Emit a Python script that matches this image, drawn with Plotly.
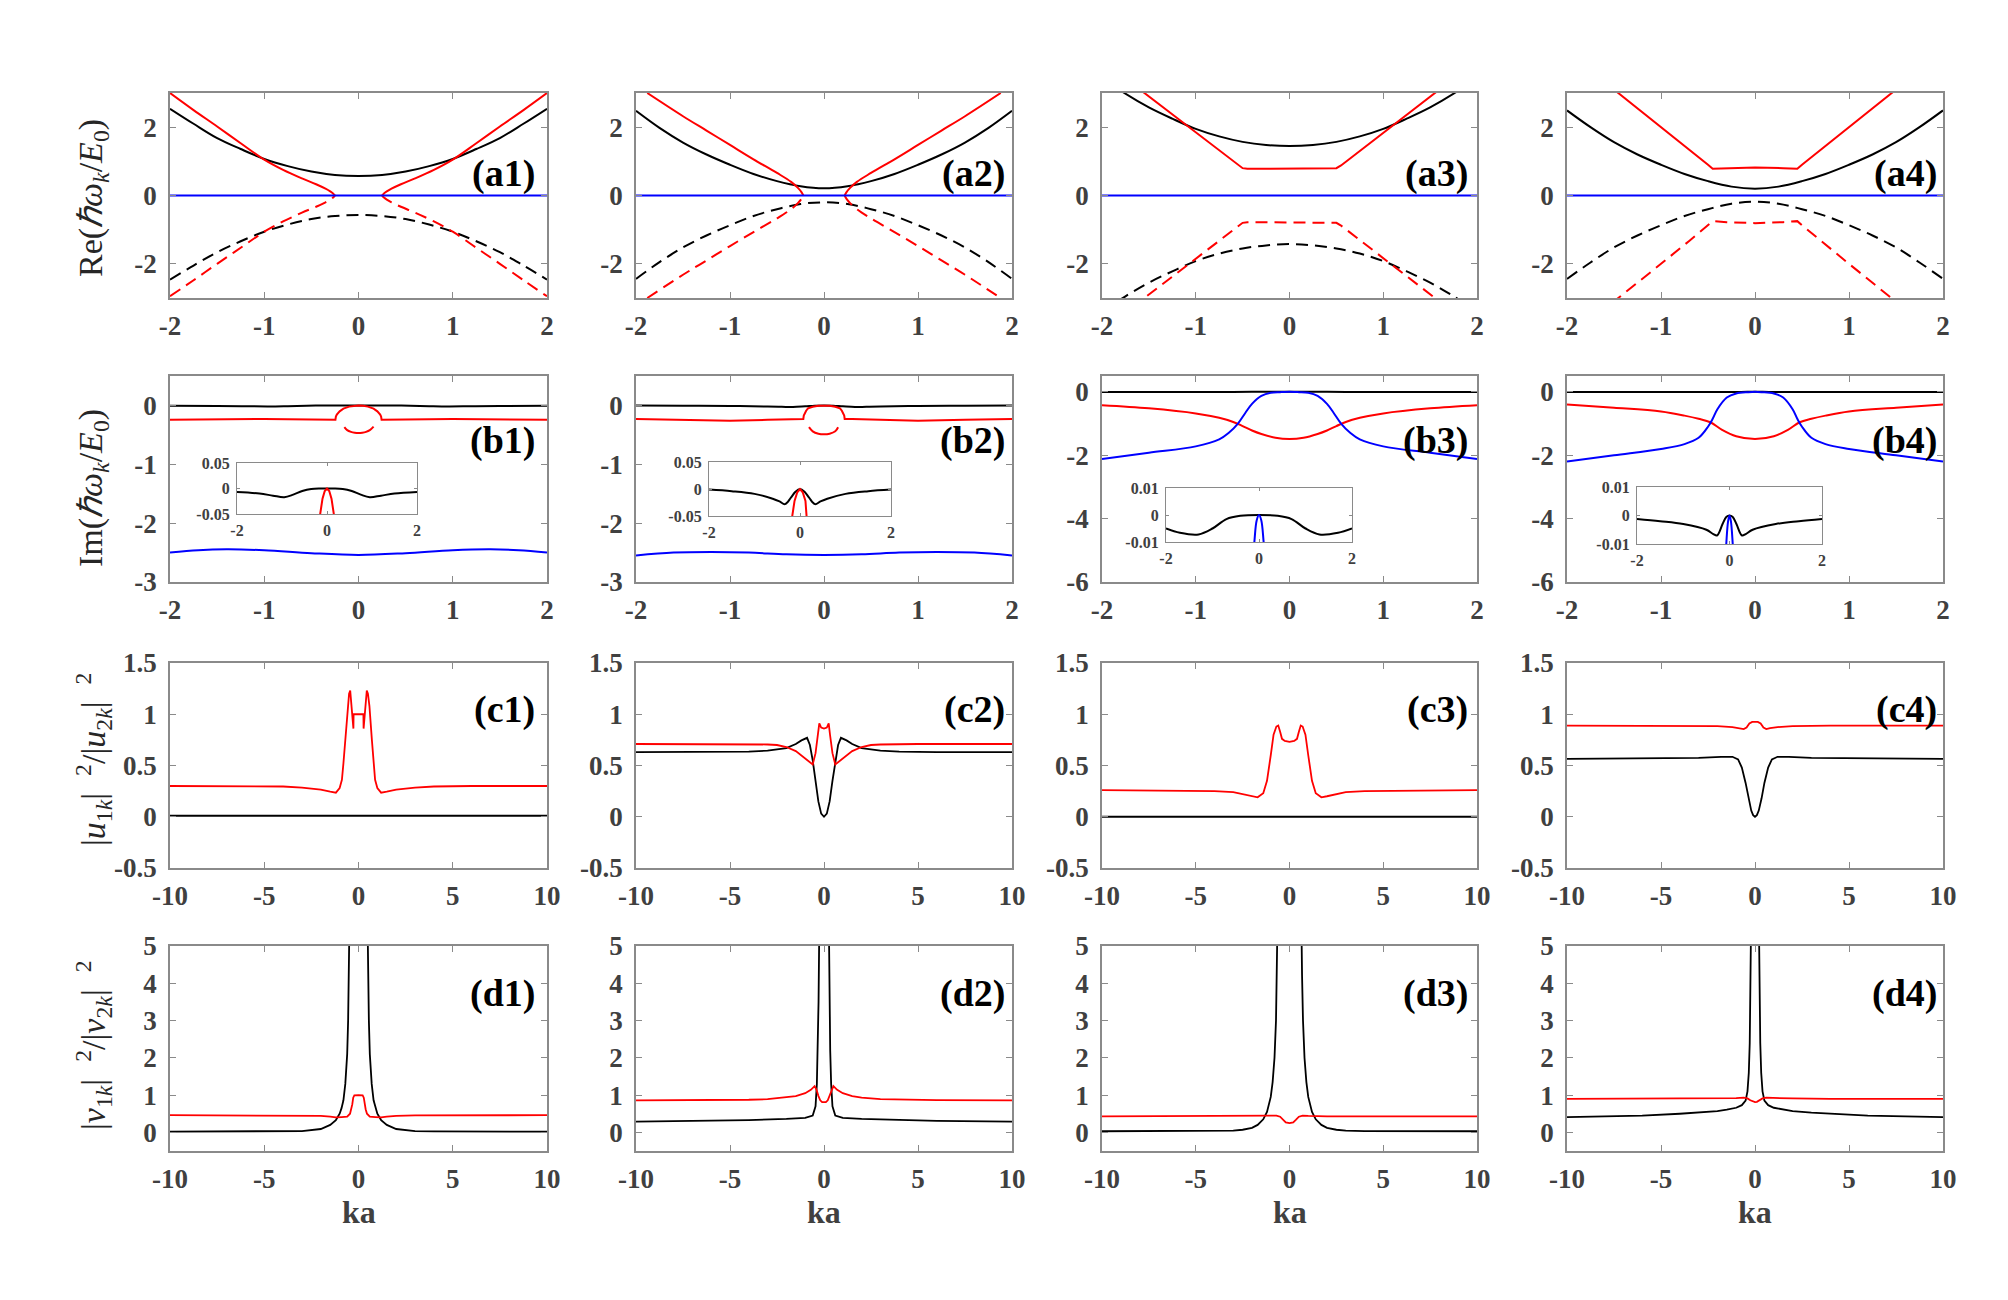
import plotly.graph_objects as go

W, H = 2008, 1300
SERIF = "Liberation Serif, Times New Roman, serif"
GRAY = "#8a8a8a"
TICKC = "#404040"
RED, BLK, BLU = "#ff0000", "#000000", "#0000ff"

# ---------------- data: row (a)  Re(hbar w_k / E0) ----------------
XA = [-2, -1.75, -1.5, -1.25, -1, -0.75, -0.5, -0.25, 0, 0.25, 0.5, 0.75, 1, 1.25, 1.5, 1.75, 2]
BLUE_A_X = [-2, 2]
BLUE_A = [0, 0]

a1_black = [2.54, 2.1, 1.68, 1.36, 1.07, 0.86, 0.7, 0.6, 0.57, 0.6, 0.7, 0.86, 1.07, 1.36, 1.68, 2.1, 2.54]
a1_black_dash = [-2.46, -2.05, -1.66, -1.34, -1.06, -0.85, -0.69, -0.6, -0.57, -0.6, -0.69, -0.85, -1.06, -1.34, -1.66, -2.05, -2.46]
a1_red_x = [-2, -1.75, -1.5, -1.25, -1, -0.8, -0.6, -0.45, -0.35, -0.3, -0.27, -0.25, None,
            0.25, 0.27, 0.3, 0.35, 0.45, 0.6, 0.8, 1, 1.25, 1.5, 1.75, 2]
a1_red = [3.0, 2.5, 2.02, 1.53, 1.05, 0.75, 0.5, 0.33, 0.2, 0.12, 0.06, 0.0, None,
          0.0, 0.06, 0.12, 0.2, 0.33, 0.5, 0.75, 1.05, 1.53, 2.02, 2.5, 3.0]
a1_red_dash = [-2.95, -2.48, -2.0, -1.53, -1.06, -0.76, -0.5, -0.33, -0.2, -0.12, -0.06, 0.0, None,
               0.0, -0.06, -0.12, -0.2, -0.33, -0.5, -0.76, -1.06, -1.53, -2.0, -2.48, -2.95]

a2_black = [2.48, 1.98, 1.55, 1.2, 0.9, 0.63, 0.42, 0.27, 0.21, 0.27, 0.42, 0.63, 0.9, 1.2, 1.55, 1.98, 2.48]
a2_black_dash = [-2.44, -1.95, -1.52, -1.17, -0.87, -0.6, -0.4, -0.25, -0.2, -0.25, -0.4, -0.6, -0.87, -1.17, -1.52, -1.95, -2.44]
a2_red_x = [-1.88, -1.5, -1.25, -1, -0.75, -0.5, -0.35, -0.28, -0.24, -0.22, None,
            0.22, 0.24, 0.28, 0.35, 0.5, 0.75, 1, 1.25, 1.5, 1.88]
a2_red = [3.0, 2.32, 1.9, 1.48, 1.06, 0.66, 0.4, 0.23, 0.1, 0.0, None,
          0.0, 0.1, 0.23, 0.4, 0.66, 1.06, 1.48, 1.9, 2.32, 3.0]
a2_red_dash = [-3.0, -2.32, -1.9, -1.48, -1.07, -0.67, -0.4, -0.23, -0.1, 0.0, None,
               0.0, -0.1, -0.23, -0.4, -0.67, -1.07, -1.48, -1.9, -2.32, -3.0]

a3_black = [3.45, 2.98, 2.58, 2.25, 1.95, 1.73, 1.57, 1.48, 1.45, 1.48, 1.57, 1.73, 1.95, 2.25, 2.58, 2.98, 3.45]
a3_black_dash = [-3.4, -2.95, -2.55, -2.22, -1.92, -1.7, -1.55, -1.46, -1.42, -1.46, -1.55, -1.7, -1.92, -2.22, -2.55, -2.95, -3.4]
a3_red_x = [-2, -1.55, -1.25, -1, -0.75, -0.55, -0.5, -0.45, 0, 0.45, 0.5, 0.55, 0.75, 1, 1.25, 1.55, 2]
a3_red = [3.95, 3.0, 2.36, 1.83, 1.3, 0.88, 0.8, 0.78, 0.79, 0.78, 0.8, 0.88, 1.3, 1.83, 2.36, 3.0, 3.95]
a3_red_dash = [-3.95, -3.0, -2.36, -1.83, -1.3, -0.88, -0.8, -0.78, -0.79, -0.78, -0.8, -0.88, -1.3, -1.83, -2.36, -3.0, -3.95]

a4_black = [2.49, 2.0, 1.56, 1.2, 0.9, 0.63, 0.42, 0.26, 0.2, 0.26, 0.42, 0.63, 0.9, 1.2, 1.56, 2.0, 2.49]
a4_black_dash = [-2.44, -1.96, -1.52, -1.17, -0.87, -0.6, -0.4, -0.24, -0.18, -0.24, -0.4, -0.6, -0.87, -1.17, -1.52, -1.96, -2.44]
a4_red_x = [-2, -1.45, -1, -0.7, -0.5, -0.45, -0.3, 0, 0.3, 0.45, 0.5, 0.7, 1, 1.45, 2]
a4_red = [4.2, 3.0, 2.0, 1.34, 0.9, 0.78, 0.8, 0.82, 0.8, 0.78, 0.9, 1.34, 2.0, 3.0, 4.2]
a4_red_dash = [-4.2, -3.0, -2.0, -1.33, -0.87, -0.75, -0.78, -0.81, -0.78, -0.75, -0.87, -1.33, -2.0, -3.0, -4.2]

# ---------------- data: row (b)  Im(hbar w_k / E0) ----------------
b1_black_x = [-2, -1.5, -1.2, -0.95, -0.75, -0.55, -0.35, -0.15, 0, 0.15, 0.35, 0.55, 0.75, 0.95, 1.2, 1.5, 2]
b1_black = [-0.007, -0.01, -0.014, -0.017, -0.012, -0.005, -0.001, 0.0, 0.0, 0.0, -0.001, -0.005, -0.012, -0.017, -0.014, -0.01, -0.007]
b1_red_x = [-2, -1.5, -1, -0.5, -0.3, -0.245, -0.24, -0.23, -0.2, -0.16, -0.1, -0.05, 0,
            0.05, 0.1, 0.16, 0.2, 0.23, 0.24, 0.245, 0.3, 0.5, 1, 1.5, 2]
b1_red = [-0.245, -0.235, -0.23, -0.24, -0.245, -0.245, -0.19, -0.155, -0.1, -0.055, -0.02, -0.005, 0.0,
          -0.005, -0.02, -0.055, -0.1, -0.155, -0.19, -0.245, -0.245, -0.24, -0.23, -0.235, -0.245]
b1_red_low_x = [-0.15, -0.12, -0.08, -0.04, 0, 0.04, 0.08, 0.12, 0.16]
b1_red_low = [-0.37, -0.42, -0.45, -0.465, -0.47, -0.465, -0.45, -0.42, -0.36]
b1_blue_x = [-2, -1.7, -1.4, -1, -0.5, 0, 0.5, 1, 1.4, 1.7, 2]
b1_blue = [-2.5, -2.46, -2.445, -2.46, -2.51, -2.54, -2.51, -2.46, -2.445, -2.46, -2.5]

b2_black_x = [-2, -1.5, -1, -0.6, -0.45, -0.33, -0.2, -0.1, 0, 0.1, 0.2, 0.33, 0.45, 0.6, 1, 1.5, 2]
b2_black = [-0.001, -0.004, -0.009, -0.018, -0.023, -0.028, -0.016, -0.005, 0.0, -0.005, -0.016, -0.028, -0.023, -0.018, -0.009, -0.004, -0.001]
b2_red_x = [-2, -1.5, -1, -0.6, -0.3, -0.22, -0.215, -0.205, -0.19, -0.17, -0.12, -0.06, 0,
            0.06, 0.12, 0.17, 0.19, 0.205, 0.215, 0.22, 0.3, 0.6, 1, 1.5, 2]
b2_red = [-0.23, -0.245, -0.26, -0.245, -0.23, -0.23, -0.17, -0.13, -0.09, -0.05, -0.022, -0.006, 0.0,
          -0.006, -0.022, -0.05, -0.09, -0.13, -0.17, -0.23, -0.23, -0.245, -0.26, -0.245, -0.23]
b2_red_low_x = [-0.16, -0.12, -0.06, 0, 0.06, 0.12, 0.15]
b2_red_low = [-0.37, -0.44, -0.48, -0.49, -0.48, -0.44, -0.37]
b2_blue_x = [-2, -1.6, -1.2, -0.8, -0.4, 0, 0.4, 0.8, 1.2, 1.6, 2]
b2_blue = [-2.55, -2.5, -2.49, -2.5, -2.53, -2.54, -2.53, -2.5, -2.49, -2.5, -2.55]

b3_black_x = [-2, -1.7, -1.3, -1.0, -0.7, -0.4, 0, 0.4, 0.7, 1.0, 1.3, 1.7, 2]
b3_black = [-0.005, -0.0066, -0.0072, -0.005, -0.0015, -0.0003, 0.0, -0.0003, -0.0015, -0.005, -0.0072, -0.0066, -0.005]
b3_red_x = [-2, -1.5, -1, -0.75, -0.6, -0.5, -0.4, -0.3, -0.15, 0, 0.15, 0.3, 0.4, 0.5, 0.6, 0.75, 1, 1.5, 2]
b3_red = [-0.42, -0.52, -0.68, -0.82, -0.95, -1.08, -1.22, -1.33, -1.45, -1.49, -1.45, -1.33, -1.22, -1.08, -0.95, -0.82, -0.68, -0.52, -0.42]
b3_blue_x = [-2, -1.5, -1, -0.75, -0.65, -0.55, -0.47, -0.4, -0.3, -0.2, -0.1, -0.05, 0,
             0.05, 0.1, 0.2, 0.3, 0.4, 0.47, 0.55, 0.65, 0.75, 1, 1.5, 2]
b3_blue = [-2.12, -1.92, -1.72, -1.5, -1.3, -1.0, -0.66, -0.38, -0.13, -0.03, -0.01, -0.002, 0.0,
           -0.002, -0.01, -0.03, -0.13, -0.38, -0.66, -1.0, -1.3, -1.5, -1.72, -1.92, -2.12]

b4_black_x = [-2, -1.5, -1, -0.5, -0.35, -0.27, -0.15, -0.07, 0, 0.07, 0.15, 0.27, 0.35, 0.5, 1, 1.5, 2]
b4_black = [-0.0012, -0.002, -0.003, -0.005, -0.0065, -0.007, -0.003, -0.0005, 0.0, -0.0005, -0.003, -0.007, -0.0065, -0.005, -0.003, -0.002, -0.0012]
b4_red_x = [-2, -1.5, -1, -0.75, -0.6, -0.475, -0.35, -0.2, 0, 0.2, 0.35, 0.475, 0.6, 0.75, 1, 1.5, 2]
b4_red = [-0.4, -0.5, -0.62, -0.75, -0.85, -0.96, -1.2, -1.4, -1.49, -1.4, -1.2, -0.96, -0.85, -0.75, -0.62, -0.5, -0.4]
b4_blue_x = [-2, -1.5, -1, -0.75, -0.6, -0.5, -0.45, -0.4, -0.3, -0.2, -0.07, -0.03, 0,
             0.03, 0.07, 0.2, 0.3, 0.4, 0.45, 0.5, 0.6, 0.75, 1, 1.5, 2]
b4_blue = [-2.2, -2.0, -1.8, -1.65, -1.45, -1.1, -0.85, -0.55, -0.18, -0.05, -0.01, -0.002, 0.0,
           -0.002, -0.01, -0.05, -0.18, -0.55, -0.85, -1.1, -1.45, -1.65, -1.8, -2.0, -2.2]

# ---------------- data: row (c)  |u1k|^2/|u2k|^2 ----------------
c1_red_x = [-10, -6, -4, -3, -2, -1.5, -1.2, -1.0, -0.88, -0.8, -0.71, -0.58, -0.5, -0.44, -0.38, -0.32, -0.27, -0.26, 0,
            0.26, 0.27, 0.32, 0.38, 0.44, 0.5, 0.58, 0.71, 0.8, 0.88, 1.0, 1.2, 1.5, 2, 3, 4, 6, 10]
c1_red = [0.3, 0.3, 0.295, 0.285, 0.265, 0.245, 0.235, 0.28, 0.36, 0.52, 0.75, 1.08, 1.2, 1.23, 1.12, 0.98, 0.86, 1.0, 1.0,
          1.0, 0.86, 0.98, 1.12, 1.23, 1.2, 1.08, 0.75, 0.52, 0.36, 0.28, 0.235, 0.245, 0.265, 0.285, 0.295, 0.3, 0.3]
c1_black_x = [-10, -2, -1, 0, 1, 2, 10]
c1_black = [0.01, 0.01, 0.008, 0.005, 0.008, 0.01, 0.01]

c2_red_x = [-10, -5, -3, -2.5, -2, -1.5, -1, -0.6, -0.45, -0.32, -0.25, -0.15, 0,
            0.15, 0.25, 0.32, 0.45, 0.6, 1, 1.5, 2, 2.5, 3, 5, 10]
c2_red = [0.71, 0.71, 0.705, 0.7, 0.68, 0.64, 0.57, 0.51, 0.62, 0.8, 0.91, 0.87, 0.86,
          0.87, 0.91, 0.8, 0.62, 0.51, 0.57, 0.64, 0.68, 0.7, 0.705, 0.71, 0.71]
c2_black_x = [-10, -6, -4, -3, -2, -1.5, -1.2, -0.9, -0.75, -0.6, -0.45, -0.3, -0.15, 0,
              0.15, 0.3, 0.45, 0.6, 0.75, 0.9, 1.2, 1.5, 2, 3, 4, 6, 10]
c2_black = [0.63, 0.63, 0.635, 0.645, 0.67, 0.71, 0.745, 0.77, 0.7, 0.55, 0.35, 0.15, 0.03, 0.0,
            0.03, 0.15, 0.35, 0.55, 0.7, 0.77, 0.745, 0.71, 0.67, 0.645, 0.635, 0.63, 0.63]

c3_red_x = [-10, -6, -4, -3, -2.5, -2, -1.7, -1.4, -1.2, -1, -0.85, -0.7, -0.6, -0.5, -0.4, -0.25, 0,
            0.25, 0.4, 0.5, 0.6, 0.7, 0.85, 1, 1.2, 1.4, 1.7, 2, 2.5, 3, 4, 6, 10]
c3_red = [0.26, 0.255, 0.25, 0.24, 0.22, 0.2, 0.19, 0.23, 0.35, 0.6, 0.8, 0.88, 0.89, 0.83, 0.76, 0.74, 0.73,
          0.74, 0.76, 0.83, 0.89, 0.88, 0.8, 0.6, 0.35, 0.23, 0.19, 0.2, 0.22, 0.24, 0.25, 0.255, 0.26]
c3_black_x = [-10, 0, 10]
c3_black = [0.0, 0.0, 0.0]

c4_red_x = [-10, -4, -2, -1.2, -0.8, -0.6, -0.45, -0.3, -0.15, 0, 0.15, 0.3, 0.45, 0.6, 0.8, 1.2, 2, 4, 10]
c4_red = [0.89, 0.89, 0.885, 0.875, 0.865, 0.855, 0.87, 0.91, 0.925, 0.925, 0.925, 0.91, 0.87, 0.855, 0.865, 0.875, 0.885, 0.89, 0.89]
c4_black_x = [-10, -6, -3, -1.8, -1.2, -0.9, -0.7, -0.5, -0.35, -0.2, -0.1, 0,
              0.1, 0.2, 0.35, 0.5, 0.7, 0.9, 1.2, 1.8, 3, 6, 10]
c4_black = [0.565, 0.57, 0.575, 0.585, 0.585, 0.56, 0.48, 0.33, 0.18, 0.06, 0.015, 0.0,
            0.015, 0.06, 0.18, 0.33, 0.48, 0.56, 0.585, 0.585, 0.575, 0.57, 0.565]

# ---------------- data: row (d)  |v1k|^2/|v2k|^2 ----------------
d1_black_x = [-10, -6, -4, -3, -2, -1.5, -1.2, -1, -0.9, -0.8, -0.7, -0.6, -0.55, -0.5, -0.47, None,
              0.47, 0.5, 0.55, 0.6, 0.7, 0.8, 0.9, 1, 1.2, 1.5, 2, 3, 4, 6, 10]
d1_black = [0.02, 0.02, 0.025, 0.035, 0.09, 0.2, 0.33, 0.5, 0.65, 0.86, 1.3, 2.1, 3.0, 4.6, 6.0, None,
            6.0, 4.6, 3.0, 2.1, 1.3, 0.86, 0.65, 0.5, 0.33, 0.2, 0.09, 0.035, 0.025, 0.02, 0.02]
d1_red_x = [-10, -5, -3, -2, -1.5, -1.2, -0.9, -0.6, -0.45, -0.38, -0.33, -0.28, -0.22, 0,
            0.22, 0.28, 0.33, 0.38, 0.45, 0.6, 0.9, 1.2, 1.5, 2, 3, 5, 10]
d1_red = [0.46, 0.46, 0.455, 0.44, 0.42, 0.4, 0.41, 0.42, 0.5, 0.62, 0.75, 0.93, 0.99, 1.0,
          0.99, 0.93, 0.75, 0.62, 0.5, 0.42, 0.41, 0.4, 0.42, 0.44, 0.455, 0.46, 0.46]

d2_black_x = [-10, -6, -4, -2, -1, -0.6, -0.45, -0.38, -0.33, -0.29, -0.26, -0.24, None,
              0.24, 0.26, 0.29, 0.33, 0.38, 0.45, 0.6, 1, 2, 4, 6, 10]
d2_black = [0.29, 0.31, 0.33, 0.36, 0.39, 0.45, 0.7, 1.3, 2.2, 3.5, 5.0, 6.5, None,
            6.5, 5.0, 3.5, 2.2, 1.3, 0.7, 0.45, 0.39, 0.36, 0.33, 0.31, 0.29]
d2_red_x = [-10, -6, -4, -3, -2, -1.5, -1, -0.7, -0.5, -0.4, -0.3, -0.2, -0.1, 0,
            0.1, 0.2, 0.3, 0.4, 0.5, 0.7, 1, 1.5, 2, 3, 4, 6, 10]
d2_red = [0.86, 0.865, 0.875, 0.89, 0.93, 0.97, 1.05, 1.14, 1.24, 1.15, 0.98, 0.86, 0.81, 0.8,
          0.81, 0.86, 0.98, 1.15, 1.24, 1.14, 1.05, 0.97, 0.93, 0.89, 0.875, 0.865, 0.86]

d3_black_x = [-10, -6, -4, -3, -2.5, -2, -1.7, -1.4, -1.2, -1, -0.9, -0.8, -0.72, -0.67, -0.63, -0.6, None,
              0.6, 0.63, 0.67, 0.72, 0.8, 0.9, 1, 1.2, 1.4, 1.7, 2, 2.5, 3, 4, 6, 10]
d3_black = [0.03, 0.03, 0.035, 0.045, 0.07, 0.12, 0.2, 0.35, 0.55, 0.95, 1.35, 2.0, 3.0, 4.2, 5.5, 7.0, None,
            7.0, 5.5, 4.2, 3.0, 2.0, 1.35, 0.95, 0.55, 0.35, 0.2, 0.12, 0.07, 0.045, 0.035, 0.03, 0.03]
d3_red_x = [-10, -5, -2, -1, -0.7, -0.5, -0.35, -0.2, 0, 0.2, 0.35, 0.5, 0.7, 1, 2, 5, 10]
d3_red = [0.43, 0.43, 0.43, 0.44, 0.45, 0.42, 0.34, 0.27, 0.25, 0.27, 0.34, 0.42, 0.45, 0.44, 0.43, 0.43, 0.43]

d4_black_x = [-10, -8, -6, -4, -3, -2, -1.5, -1, -0.7, -0.5, -0.4, -0.33, -0.28, -0.25, -0.22, -0.2, None,
              0.2, 0.22, 0.25, 0.28, 0.33, 0.4, 0.5, 0.7, 1, 1.5, 2, 3, 4, 6, 8, 10]
d4_black = [0.41, 0.43, 0.45, 0.5, 0.53, 0.57, 0.61, 0.66, 0.73, 0.85, 1.1, 1.6, 2.4, 3.2, 4.5, 6.0, None,
            6.0, 4.5, 3.2, 2.4, 1.6, 1.1, 0.85, 0.73, 0.66, 0.61, 0.57, 0.53, 0.5, 0.45, 0.43, 0.41]
d4_red_x = [-10, -4, -2, -1, -0.6, -0.4, -0.25, -0.1, 0, 0.1, 0.25, 0.4, 0.6, 1, 2, 4, 10]
d4_red = [0.9, 0.9, 0.91, 0.92, 0.93, 0.91, 0.86, 0.82, 0.81, 0.82, 0.86, 0.91, 0.93, 0.92, 0.91, 0.9, 0.9]

# ---------------- tick labels ----------------
TICK_AB_X = [-2, -1, 0, 1, 2]
TICK_AB_X_TEXT = ["-2", "-1", "0", "1", "2"]
TICK_A_Y = [-2, 0, 2]
TICK_A_Y_TEXT = ["-2", "0", "2"]
TICK_B12_Y = [-3, -2, -1, 0]
TICK_B12_Y_TEXT = ["-3", "-2", "-1", "0"]
TICK_B34_Y = [-6, -4, -2, 0]
TICK_B34_Y_TEXT = ["-6", "-4", "-2", "0"]
TICK_CD_X = [-10, -5, 0, 5, 10]
TICK_CD_X_TEXT = ["-10", "-5", "0", "5", "10"]
TICK_C_Y = [-0.5, 0, 0.5, 1, 1.5]
TICK_C_Y_TEXT = ["-0.5", "0", "0.5", "1", "1.5"]
TICK_D_Y = [0, 1, 2, 3, 4, 5]
TICK_D_Y_TEXT = ["0", "1", "2", "3", "4", "5"]
TICK_IN_X = [-2, 0, 2]
TICK_IN_X_TEXT = ["-2", "0", "2"]
TICK_IN12_Y = [-0.05, 0, 0.05]
TICK_IN12_Y_TEXT = ["-0.05", "0", "0.05"]
TICK_IN34_Y = [-0.01, 0, 0.01]
TICK_IN34_Y_TEXT = ["-0.01", "0", "0.01"]

PANEL_LABELS = [["(a1)", "(a2)", "(a3)", "(a4)"], ["(b1)", "(b2)", "(b3)", "(b4)"],
                ["(c1)", "(c2)", "(c3)", "(c4)"], ["(d1)", "(d2)", "(d3)", "(d4)"]]
Y_TITLES = ["Re(<i>ℏω</i><sub><i>k</i></sub>/<i>E</i><sub>0</sub>)",
            "Im(<i>ℏω</i><sub><i>k</i></sub>/<i>E</i><sub>0</sub>)",
            "|<i>u</i><sub>1<i>k</i></sub>|  <sup>2</sup>/|<i>u</i><sub>2<i>k</i></sub>|  <sup>2</sup>",
            "|<i>v</i><sub>1<i>k</i></sub>|  <sup>2</sup>/|<i>v</i><sub>2<i>k</i></sub>|  <sup>2</sup>"]
X_TITLE = "ka"

# ---------------- layout geometry (pixels) ----------------
COLS = [(170, 547), (636, 1012), (1102, 1477), (1567, 1943)]
ROWS = [(93, 298), (376, 582), (663, 868), (946, 1151)]
INSETS = [(237, 417, 463, 514), (709, 891, 462, 516), (1166, 1352, 488, 542), (1637, 1822, 487, 544)]
LABEL_OFF = [10, 5, 7, 4]
LABEL_Y = [173, 440, 710, 993]
YTITLE_Y = [198, 488, 760, 1045]

fig = go.Figure()
layout = dict(width=W, height=H, margin=dict(l=0, r=0, t=0, b=0, pad=0, autoexpand=False),
              autosize=False, template="none",
              paper_bgcolor="white", plot_bgcolor="white", showlegend=False)


def axkey(n, a):
    return f"{a}axis" if n == 1 else f"{a}axis{n}"


def ref(n, a):
    return a if n == 1 else f"{a}{n}"


def add_axes(n, xpix, ypix, xr, yr, xt, xtt, yt, ytt, fs, tl, lw, sox, soy):
    style = dict(showline=True, linecolor=GRAY, linewidth=lw, mirror="ticks", ticks="inside",
                 ticklen=tl, tickwidth=lw * 0.8, tickcolor=GRAY, showgrid=False, zeroline=False,
                 automargin=False,
                 tickfont=dict(family=SERIF, size=fs, color=TICKC, weight="bold"), fixedrange=True)
    layout[axkey(n, "x")] = dict(domain=[xpix[0] / W, xpix[1] / W], range=xr, tickvals=xt,
                                 ticktext=xtt, anchor=ref(n, "y"), ticklabelstandoff=sox, **style)
    layout[axkey(n, "y")] = dict(domain=[1 - ypix[1] / H, 1 - ypix[0] / H], range=yr, tickvals=yt,
                                 ticktext=ytt, anchor=ref(n, "x"), ticklabelstandoff=soy, **style)


def line(n, x, y, color, dash="solid", shape="spline", width=2):
    fig.add_trace(go.Scatter(x=x, y=y, mode="lines", xaxis=ref(n, "x"), yaxis=ref(n, "y"),
                             line=dict(color=color, width=width, dash=dash, shape=shape),
                             connectgaps=False, hoverinfo="skip"))


DASH = "12px,7px"
FS = 27

# row a
a_data = [(a1_black, a1_black_dash, a1_red_x, a1_red, a1_red_dash),
          (a2_black, a2_black_dash, a2_red_x, a2_red, a2_red_dash),
          (a3_black, a3_black_dash, a3_red_x, a3_red, a3_red_dash),
          (a4_black, a4_black_dash, a4_red_x, a4_red, a4_red_dash)]
for c, (bk, bkd, rx, rd, rdd) in enumerate(a_data):
    n = c + 1
    add_axes(n, COLS[c], ROWS[0], [-2, 2], [-3, 3], TICK_AB_X, TICK_AB_X_TEXT, TICK_A_Y, TICK_A_Y_TEXT, FS, 6, 1.6, 3, 6)
    shape = "spline" if c < 2 else "linear"
    line(n, XA, bk, BLK)
    line(n, XA, bkd, BLK, DASH)
    line(n, rx, rd, RED, shape=shape)
    line(n, rx, rdd, RED, DASH, shape=shape)
    line(n, BLUE_A_X, BLUE_A, BLU)

# row b
b_data = [(b1_black_x, b1_black, b1_red_x, b1_red, b1_red_low_x, b1_red_low, b1_blue_x, b1_blue),
          (b2_black_x, b2_black, b2_red_x, b2_red, b2_red_low_x, b2_red_low, b2_blue_x, b2_blue),
          (b3_black_x, b3_black, b3_red_x, b3_red, None, None, b3_blue_x, b3_blue),
          (b4_black_x, b4_black, b4_red_x, b4_red, None, None, b4_blue_x, b4_blue)]
for c, (kx, ky, rx, ry, lx, ly, bx, by) in enumerate(b_data):
    n = 5 + c
    ni = 17 + c
    if c < 2:
        add_axes(n, COLS[c], ROWS[1], [-2, 2], [-3, 0.5], TICK_AB_X, TICK_AB_X_TEXT, TICK_B12_Y, TICK_B12_Y_TEXT, FS, 6, 1.6, 3, 6)
        iy, iyt, iytt = [-0.05, 0.05], TICK_IN12_Y, TICK_IN12_Y_TEXT
    else:
        add_axes(n, COLS[c], ROWS[1], [-2, 2], [-6, 0.5], TICK_AB_X, TICK_AB_X_TEXT, TICK_B34_Y, TICK_B34_Y_TEXT, FS, 6, 1.6, 3, 6)
        iy, iyt, iytt = [-0.01, 0.01], TICK_IN34_Y, TICK_IN34_Y_TEXT
    ins = INSETS[c]
    add_axes(ni, (ins[0], ins[1]), (ins[2], ins[3]), [-2, 2], iy, TICK_IN_X, TICK_IN_X_TEXT, iyt, iytt, 16, 3, 1.2, 2, 3)
    # main panel
    line(n, kx, ky, BLK)
    if c < 2:
        line(n, rx, ry, RED, shape="linear")
        line(n, lx, ly, RED)
        line(n, bx, by, BLU)
    else:
        line(n, rx, ry, RED)
        line(n, bx, by, BLU)
    # inset (zoom of the top branches)
    line(ni, kx, ky, BLK)
    if c < 2:
        line(ni, rx, ry, RED, shape="linear")
    else:
        line(ni, bx, by, BLU)

# row c
c_data = [(c1_red_x, c1_red, c1_black_x, c1_black), (c2_red_x, c2_red, c2_black_x, c2_black),
          (c3_red_x, c3_red, c3_black_x, c3_black), (c4_red_x, c4_red, c4_black_x, c4_black)]
for c, (rx, ry, kx, ky) in enumerate(c_data):
    n = 9 + c
    add_axes(n, COLS[c], ROWS[2], [-10, 10], [-0.5, 1.5], TICK_CD_X, TICK_CD_X_TEXT, TICK_C_Y, TICK_C_Y_TEXT, FS, 6, 1.6, 3, 6)
    line(n, kx, ky, BLK, shape="linear", width=1.8)
    line(n, rx, ry, RED, shape="linear", width=1.8)

# row d
d_data = [(d1_black_x, d1_black, d1_red_x, d1_red), (d2_black_x, d2_black, d2_red_x, d2_red),
          (d3_black_x, d3_black, d3_red_x, d3_red), (d4_black_x, d4_black, d4_red_x, d4_red)]
for c, (kx, ky, rx, ry) in enumerate(d_data):
    n = 13 + c
    add_axes(n, COLS[c], ROWS[3], [-10, 10], [-0.5, 5], TICK_CD_X, TICK_CD_X_TEXT, TICK_D_Y, TICK_D_Y_TEXT, FS, 6, 1.6, 3, 6)
    line(n, kx, ky, BLK, shape="linear", width=1.8)
    line(n, rx, ry, RED, shape="linear", width=1.8)

# annotations
ann = []
for r in range(4):
    for c in range(4):
        ann.append(dict(text=PANEL_LABELS[r][c], xref="paper", yref="paper",
                        x=(COLS[c][1] - LABEL_OFF[c]) / W, y=1 - LABEL_Y[r] / H,
                        xanchor="right", yanchor="middle", showarrow=False,
                        font=dict(family=SERIF, size=38, color="black", weight="bold")))
    ann.append(dict(text=Y_TITLES[r], xref="paper", yref="paper", x=93 / W, y=1 - YTITLE_Y[r] / H,
                    xanchor="center", yanchor="middle", textangle=-90, showarrow=False,
                    font=dict(family=SERIF, size=34, color="#262626")))
for c in range(4):
    ann.append(dict(text=X_TITLE, xref="paper", yref="paper", x=(COLS[c][0] + COLS[c][1]) / 2 / W,
                    y=1 - 1212 / H, xanchor="center", yanchor="middle", showarrow=False,
                    font=dict(family=SERIF, size=32, color=TICKC, weight="bold")))
layout["annotations"] = ann

fig.update_layout(**layout)
fig.write_html("out.html",
               post_script="document.body.style.margin='0';document.body.style.overflow='hidden';")
